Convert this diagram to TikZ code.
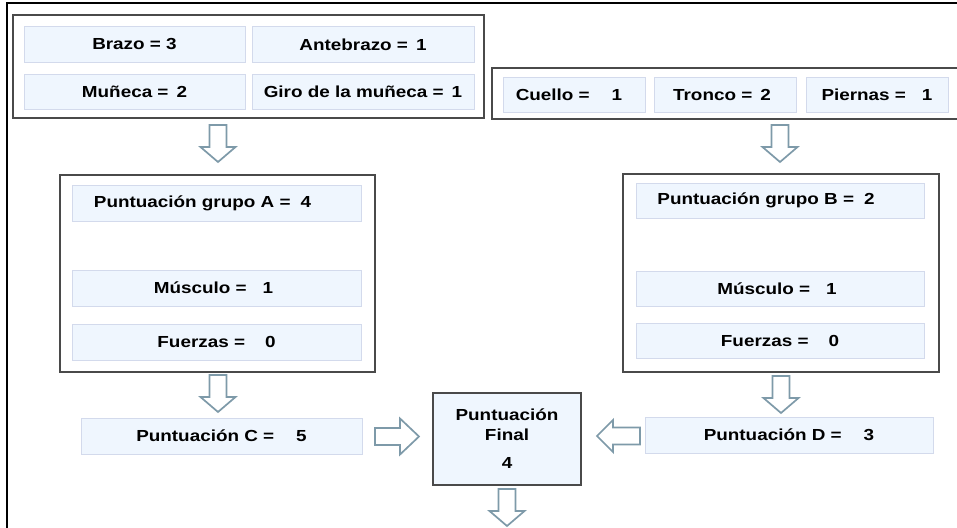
\documentclass[tikz,border=0pt]{standalone}
\usepackage{fontspec}
\setmainfont{Liberation Sans}[FakeStretch=1.18]
\begin{document}
\begin{tikzpicture}[x=1pt,y=-1pt,
  cell/.style={draw=cellline,fill=cellfill,line width=1pt,inner sep=0pt,
    font=\fontsize{16}{20}\selectfont\bfseries,text=black},
  holder/.style={draw=holdline,line width=1.6pt,fill=white,inner sep=0pt},
  blockarrow/.style={draw=arrline,fill=white,line width=1.7pt,line join=miter},
  darr/.pic={\draw[blockarrow] (-8.5,0) -- (8.5,0) -- (8.5,22) -- (17.5,22) -- (0,37) -- (-17.5,22) -- (-8.5,22) -- cycle;},
  rarr/.pic={\draw[blockarrow] (0,-8.5) -- (25,-8.5) -- (25,-18) -- (44,0) -- (25,18) -- (25,8.5) -- (0,8.5) -- cycle;},
  larr/.pic={\draw[blockarrow] (0,-8.5) -- (-27,-8.5) -- (-27,-16) -- (-43,0) -- (-27,16) -- (-27,8.5) -- (0,8.5) -- cycle;}
]
\definecolor{cellfill}{HTML}{EFF6FE}
\definecolor{cellline}{HTML}{D3DAEC}
\definecolor{holdline}{HTML}{4A4A4A}
\definecolor{arrline}{HTML}{7E9AA9}
\useasboundingbox (0,0) rectangle (957,527);
\fill[white] (0,0) rectangle (957,527);
% outer frame (top and left edges)
\draw[line width=2.5pt] (7,540) -- (7,3) -- (970,3);

% top group A
\node[holder,minimum width=471pt,minimum height=103pt] (topA) at (248.5,66.5) {};
\node[cell,minimum width=221pt,minimum height=35pt] (brazo) at (134.5,44.5) {Brazo = 3};
\node[cell,minimum width=222pt,minimum height=35pt] (ante) at (363,44.5) {Antebrazo =\hspace{8pt}1};
\node[cell,minimum width=221pt,minimum height=35pt] (muneca) at (134.5,91.5) {Muñeca =\hspace{8pt}2};
\node[cell,minimum width=222pt,minimum height=35pt] (giro) at (363,91.5) {Giro de la muñeca =\hspace{8pt}1};

% top group B
\node[holder,minimum width=490pt,minimum height=51pt] (topB) at (737,93.5) {};
\node[cell,minimum width=142pt,minimum height=35pt] (cuello) at (574,94.5) {Cuello =\hspace{22pt}1\kern10pt};
\node[cell,minimum width=142pt,minimum height=35pt] (tronco) at (725,94.5) {Tronco =\hspace{8pt}2\kern6pt};
\node[cell,minimum width=142pt,minimum height=35pt] (piernas) at (877,94.5) {Piernas =\hspace{16pt}1};

% group A
\node[holder,minimum width=315pt,minimum height=197pt] (grpA) at (217.5,273.5) {};
\node[cell,minimum width=289pt,minimum height=36pt] (puntA) at (216.5,203) {Puntuación grupo A =\hspace{10pt}4\kern28pt};
\node[cell,minimum width=289pt,minimum height=36pt] (muscA) at (216.5,288) {Músculo =\hspace{16pt}1\kern6pt};
\node[cell,minimum width=289pt,minimum height=36pt] (fuerA) at (216.5,342) {Fuerzas =\hspace{20pt}0};

% group B
\node[holder,minimum width=316pt,minimum height=198pt] (grpB) at (781,273) {};
\node[cell,minimum width=288pt,minimum height=35pt] (puntB) at (780,200.5) {Puntuación grupo B =\hspace{10pt}2\kern28pt};
\node[cell,minimum width=288pt,minimum height=35pt] (muscB) at (780,289) {Músculo =\hspace{16pt}1\kern6pt};
\node[cell,minimum width=288pt,minimum height=35pt] (fuerB) at (780,341) {Fuerzas =\hspace{20pt}0};

% bottom row
\node[cell,minimum width=281pt,minimum height=36pt] (puntC) at (221.5,436) {Puntuación C =\hspace{22pt}5};
\node[cell,draw=holdline,line width=1.6pt,minimum width=148pt,minimum height=92pt,align=center] (final) at (507,439) {Puntuación\\Final\\[8pt]4};
\node[cell,minimum width=288pt,minimum height=36pt] (puntD) at (789,435) {Puntuación D =\hspace{22pt}3};

% block arrows
\pic at (218,125) {darr};
\pic at (780,125) {darr};
\pic at (218,375) {darr};
\pic at (781,376) {darr};
\pic at (507,489) {darr};
\pic at (375,436.5) {rarr};
\pic at (640,436) {larr};
\end{tikzpicture}
\end{document}
